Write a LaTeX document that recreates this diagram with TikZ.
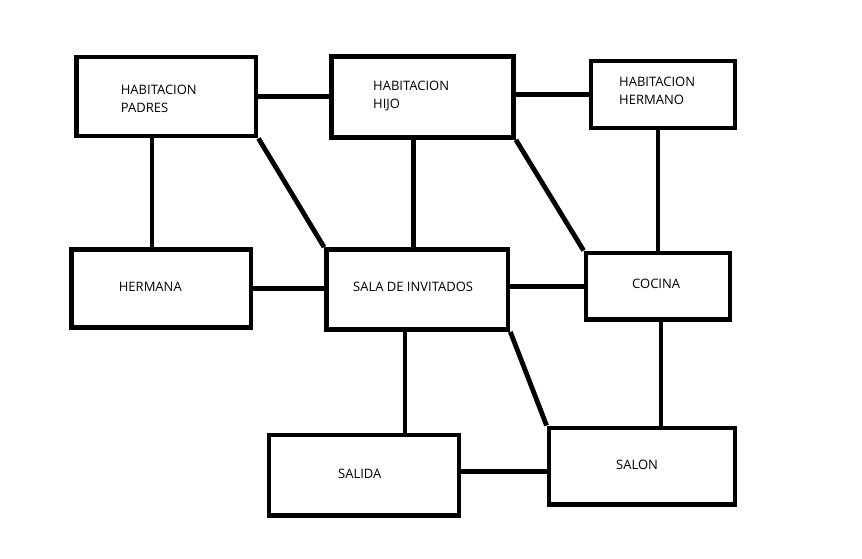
\documentclass[tikz,border=0pt]{standalone}
\usepackage{fontspec}
\setmainfont{Open Sans}
\usepackage{tikz}

\begin{document}
\begin{tikzpicture}[x=1pt,y=-1pt,
  room/.style={draw,line width=4.8pt,inner sep=0pt},
  roomtxt/.style={anchor=base west,inner sep=0pt,align=left,font=\fontsize{13}{18}\selectfont},
  link/.style={line width=4.8pt}]
  \useasboundingbox (0,0) rectangle (862,559);
  % rooms
  \node[room,minimum width=179.7,minimum height=79] (padres) at (166.2,96.5) {};
  \node[room,minimum width=182,minimum height=81] (hijo) at (422.5,97) {};
  \node[room,minimum width=144,minimum height=67] (hermano) at (663,94.5) {};
  \node[room,minimum width=179.5,minimum height=78] (hermana) at (161.2,288.5) {};
  \node[room,minimum width=181.5,minimum height=80] (sala) at (417.2,289.5) {};
  \node[room,minimum width=144,minimum height=66.5] (cocina) at (658,286.2) {};
  \node[room,minimum width=190,minimum height=80.5] (salida) at (364,475.2) {};
  \node[room,minimum width=186,minimum height=76.5] (salon) at (642,466.2) {};
  % names (base = last line)
  \node[roomtxt] (padrestxt) at (120.7,113) {HABITACION\\PADRES};
  \node[roomtxt] (hijotxt) at (373,109) {HABITACION\\HIJO};
  \node[roomtxt] (hermanotxt) at (619,105) {HABITACION\\HERMANO};
  \node[roomtxt] (hermanatxt) at (118.7,291.7) {HERMANA};
  \node[roomtxt] (salatxt) at (353,291) {SALA DE INVITADOS};
  \node[roomtxt] (cocinatxt) at (632,288.7) {COCINA};
  \node[roomtxt] (salidatxt) at (338,478.7) {SALIDA};
  \node[roomtxt] (salontxt) at (616,469) {SALON};
  % connections
  \draw[link] (padres.east) -- (padres.east -| hijo.west);
  \draw[link] (hijo.east |- hermano.west) -- (hermano.west);
  \draw[link] ([xshift=-14.2pt]padres.south) -- ([xshift=-14.2pt]padres.south |- hermana.north);
  \draw[link] (padres.south east) -- (sala.north west);
  \draw[link] ([xshift=-9pt]hijo.south) -- ([xshift=-9pt]hijo.south |- sala.north);
  \draw[link] (hijo.south east) -- (cocina.north west);
  \draw[link] (cocina.north |- hermano.south) -- (cocina.north);
  \draw[link] (hermana.east) -- (hermana.east -| sala.west);
  \draw[link] (sala.east |- cocina.west) -- (cocina.west);
  \draw[link] ([xshift=-12.2pt]sala.south) -- ([xshift=-12.2pt]sala.south |- salida.north);
  \draw[link] (sala.south east) -- (salon.north west);
  \draw[link] ([xshift=3pt]cocina.south) -- ([xshift=3pt]cocina.south |- salon.north);
  \draw[link] ([yshift=3.7pt]salida.east) -- ([yshift=3.7pt]salida.east -| salon.west);
\end{tikzpicture}
\end{document}
